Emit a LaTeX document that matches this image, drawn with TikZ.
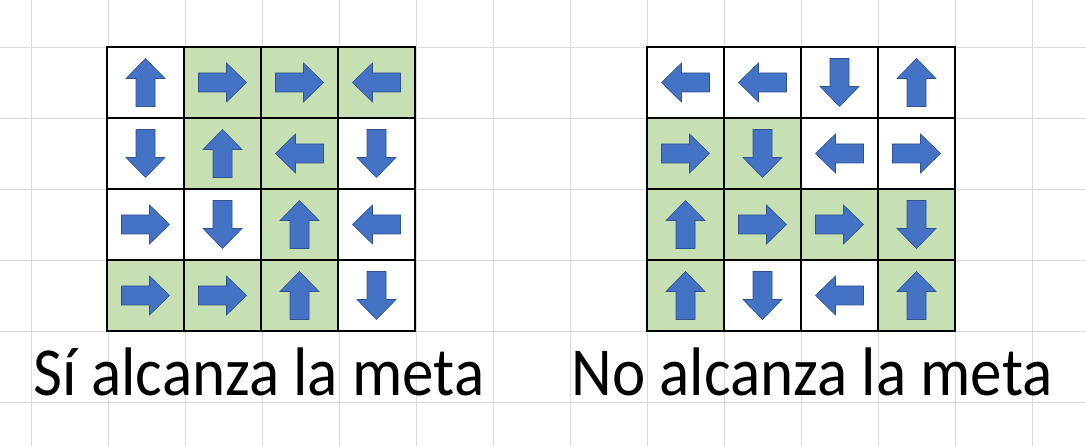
\documentclass[tikz,border=0pt]{standalone}
\usepackage{fontspec}
\setmainfont{Carlito}

\definecolor{gridgray}{HTML}{D9D9D9}
\definecolor{cellgreen}{HTML}{C6E0B4}
\definecolor{arrowblue}{HTML}{4472C4}
\definecolor{arrowedge}{HTML}{2F528F}

\tikzset{
    gridline/.style={draw=gridgray, line width=0.9pt},
    cell/.style={draw=black, line width=1.1pt, minimum width=77pt, minimum height=71pt, inner sep=0pt, outer sep=0pt},
    goal_text/.style={anchor=base, inner sep=0pt, yscale=1.09, transform shape, font=\fontsize{63}{70}\selectfont},
    blockarrow/.pic={
        \filldraw[fill=arrowblue, draw=arrowedge, line width=0.6pt]
            (-24,-9.5) -- (4,-9.5) -- (4,-19.5) -- (24,0) -- (4,19.5) -- (4,9.5) -- (-24,9.5) -- cycle;
    }
}

\begin{document}
\begin{tikzpicture}[x=1pt,y=1pt]
    \useasboundingbox (0,0) rectangle (1086,446);
    \fill[white] (0,0) rectangle (1086,446);

    % Sheet grid behind everything
    \foreach \gx in {31,108,...,1032}
        \draw[gridline] (\gx,0) -- (\gx,446);
    \foreach \gy in {399,328,...,44}
        \draw[gridline] (0,\gy) -- (1086,\gy);

    % Left board: angle/fill, row by row
    \foreach \ang/\fil [count=\k from 0] in {
        90/white, 0/cellgreen, 0/cellgreen, 180/cellgreen,
        270/white, 90/cellgreen, 180/cellgreen, 270/white,
        0/white, 270/white, 90/cellgreen, 180/white,
        0/cellgreen, 0/cellgreen, 90/cellgreen, 270/white}{
        \pgfmathtruncatemacro{\r}{int(\k/4)}
        \pgfmathtruncatemacro{\c}{mod(\k,4)}
        \node[cell, fill=\fil] (si_\r_\c) at ({145.5+77*\c},{363.5-71*\r}) {};
        \pic[rotate=\ang] at (si_\r_\c) {blockarrow};
    }

    % Right board
    \foreach \ang/\fil [count=\k from 0] in {
        180/white, 180/white, 270/white, 90/white,
        0/cellgreen, 270/cellgreen, 180/white, 0/white,
        90/cellgreen, 0/cellgreen, 0/cellgreen, 270/cellgreen,
        90/cellgreen, 270/white, 180/white, 90/cellgreen}{
        \pgfmathtruncatemacro{\r}{int(\k/4)}
        \pgfmathtruncatemacro{\c}{mod(\k,4)}
        \node[cell, fill=\fil] (no_\r_\c) at ({685.5+77*\c},{363.5-71*\r}) {};
        \pic[rotate=\ang] at (no_\r_\c) {blockarrow};
    }

    \node[goal_text] (si_label) at (259,50) {Sí alcanza la meta};
    \node[goal_text] (no_label) at (812,50) {No alcanza la meta};
\end{tikzpicture}
\end{document}
